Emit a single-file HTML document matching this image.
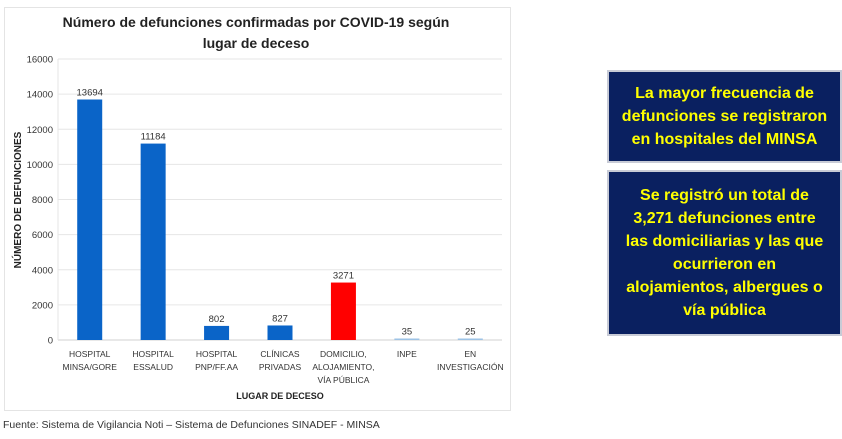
<!DOCTYPE html>
<html><head><meta charset="utf-8"><style>
body{margin:0;width:842px;height:439px;background:#fff;font-family:"Liberation Sans",sans-serif;position:relative;overflow:hidden}
.box{position:absolute;left:607px;width:235px;background:#0a2060;border:2px solid #c8cbd6;box-sizing:border-box;color:#ffff00;font-weight:bold;font-size:16px;line-height:23px;text-align:center;display:flex;align-items:center;justify-content:center}
</style></head><body>
<svg id="chart" width="842" height="439" style="position:absolute;left:0;top:0">
<rect x="4.5" y="7.5" width="506" height="403" fill="#fff" stroke="#e4e4e4"/>
<text x="256" y="27" text-anchor="middle" font-size="14" font-weight="bold" fill="#222">Número de defunciones confirmadas por COVID-19 según</text>
<text x="256" y="48" text-anchor="middle" font-size="14" font-weight="bold" fill="#222">lugar de deceso</text>
<text transform="translate(21,200) rotate(-90)" text-anchor="middle" font-size="10" font-weight="bold" fill="#222">NÚMERO DE DEFUNCIONES</text>
<text x="280" y="399" text-anchor="middle" font-size="9" font-weight="bold" fill="#222">LUGAR DE DECESO</text>
<g id="g"></g>
<text x="3" y="428" font-size="10.5" fill="#333">Fuente: Sistema de Vigilancia Noti – Sistema de Defunciones SINADEF - MINSA</text>
</svg>
<div class="box" style="top:70px;height:93px">La mayor frecuencia de<br>defunciones se registraron<br>en hospitales del MINSA</div>
<div class="box" style="top:170px;height:166px">Se registró un total de<br>3,271 defunciones entre<br>las domiciliarias y las que<br>ocurrieron en<br>alojamientos, albergues o<br>vía pública</div>
<script>
const categories=[["HOSPITAL","MINSA/GORE"],["HOSPITAL","ESSALUD"],["HOSPITAL","PNP/FF.AA"],["CLÍNICAS","PRIVADAS"],["DOMICILIO,","ALOJAMIENTO,","VÍA PÚBLICA"],["INPE"],["EN","INVESTIGACIÓN"]];
const values=[13694,11184,802,827,3271,35,25];
const colors=["#0a64c8","#0a64c8","#0a64c8","#0a64c8","#ff0000","#9dc3e6","#9dc3e6"];
const ticks=[0,2000,4000,6000,8000,10000,12000,14000,16000];
const L=58,R=502,T=59,B=340,MAX=16000;
const y=v=>B-(v/MAX)*(B-T);
const step=(R-L)/categories.length;
const x=i=>L+step*(i+0.5);
const g=document.getElementById('g');
const NS="http://www.w3.org/2000/svg";
function mk(t,a){const e=document.createElementNS(NS,t);for(const k in a)e.setAttribute(k,a[k]);g.appendChild(e);return e;}
ticks.forEach(t=>{
 const l=mk('line',{x1:L,x2:R,y1:y(t),y2:y(t),stroke:t===0?'#d0d0d0':'#e6e6e6'});
 
 
 const tx=mk('text',{x:53,y:y(t)+3.5,'text-anchor':'end','font-size':9.5,fill:'#333'});
 tx.textContent=t;
 
 
});
mk('line',{x1:L,x2:L,y1:T,y2:B,stroke:'#e6e6e6'});
values.forEach((v,i)=>{
 const h=Math.max(B-y(v),1.5);
 const r=mk('rect',{x:x(i)-12.5,y:B-h,width:25,height:h,fill:colors[i]});
 
 
 const lb=mk('text',{x:x(i),y:B-h-4,'text-anchor':'middle','font-size':9.5,fill:'#333'});
 lb.textContent=v;
 
 
 categories[i].forEach((s,j)=>{
  const c=mk('text',{x:x(i),y:357+j*13,'text-anchor':'middle','font-size':8.5,fill:'#333'});
  c.textContent=s;
  
  
 });
});
</script>
</body></html>
